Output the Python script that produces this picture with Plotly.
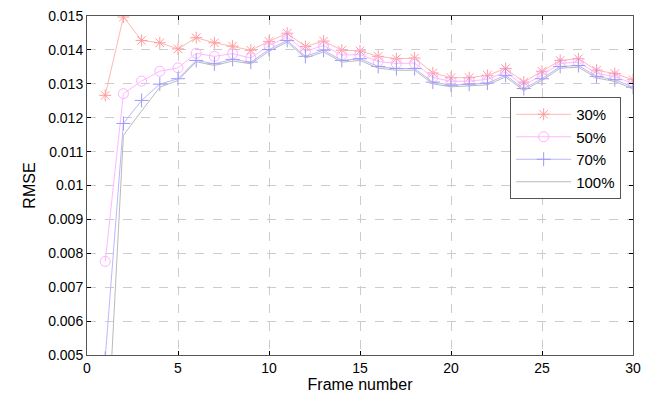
import plotly.graph_objects as go

frames = list(range(1, 31))

rmse_30 = [0.01266, 0.01497, 0.01428, 0.01421, 0.01403, 0.01436, 0.01421, 0.01411, 0.01399, 0.01425,
           0.01449, 0.01410, 0.01426, 0.01399, 0.01397, 0.01381, 0.01374, 0.01376, 0.01332, 0.01318,
           0.01318, 0.01325, 0.01345, 0.01305, 0.01337, 0.01369, 0.01374, 0.01340, 0.01330, 0.01312]
rmse_50 = [0.00776, 0.01271, 0.01308, 0.01337, 0.01347, 0.01390, 0.01381, 0.01389, 0.01376, 0.01413,
           0.01438, 0.01396, 0.01413, 0.01385, 0.01386, 0.01366, 0.01360, 0.01361, 0.01319, 0.01307,
           0.01308, 0.01313, 0.01335, 0.01295, 0.01326, 0.01360, 0.01364, 0.01331, 0.01321, 0.01301]
rmse_70 = [0.00490, 0.01183, 0.01251, 0.01299, 0.01315, 0.01369, 0.01359, 0.01372, 0.01364, 0.01401,
           0.01428, 0.01381, 0.01399, 0.01369, 0.01374, 0.01351, 0.01345, 0.01345, 0.01305, 0.01296,
           0.01299, 0.01302, 0.01325, 0.01286, 0.01315, 0.01351, 0.01354, 0.01322, 0.01312, 0.01290]
rmse_100 = [0.00125, 0.01148, 0.01220, 0.01290, 0.01310, 0.01365, 0.01354, 0.01367, 0.01359, 0.01396,
            0.01423, 0.01376, 0.01394, 0.01364, 0.01369, 0.01346, 0.01340, 0.01340, 0.01300, 0.01291,
            0.01294, 0.01297, 0.01320, 0.01281, 0.01310, 0.01346, 0.01349, 0.01317, 0.01307, 0.01285]

y_ticks = [0.005, 0.006, 0.007, 0.008, 0.009, 0.010, 0.011, 0.012, 0.013, 0.014, 0.015]
y_tick_text = ["0.005", "0.006", "0.007", "0.008", "0.009", "0.01", "0.011", "0.012", "0.013", "0.014", "0.015"]
x_ticks = [0, 5, 10, 15, 20, 25, 30]

FONT = "Liberation Sans, Arial, sans-serif"

fig = go.Figure()
fig.add_trace(go.Scatter(
    x=frames, y=rmse_30, name="30%", mode="lines+markers",
    line=dict(color="#ffb8b8", width=1),
    marker=dict(symbol="asterisk-open", size=10, color="#ff9c9c", line=dict(color="#ff9c9c", width=1)),
))
fig.add_trace(go.Scatter(
    x=frames, y=rmse_50, name="50%", mode="lines+markers",
    line=dict(color="#ffb8ff", width=1),
    marker=dict(symbol="circle-open", size=10, color="#ffb0ff", line=dict(color="#ffb0ff", width=1)),
))
fig.add_trace(go.Scatter(
    x=frames, y=rmse_70, name="70%", mode="lines+markers",
    line=dict(color="#b8b8ff", width=1),
    marker=dict(symbol="cross-thin-open", size=10, color="#9a9aff", line=dict(color="#9a9aff", width=1)),
))
fig.add_trace(go.Scatter(
    x=frames, y=rmse_100, name="100%", mode="lines",
    line=dict(color="#bababa", width=1),
))

axis_common = dict(
    showline=True, linecolor="#555555", linewidth=1, mirror="ticks",
    ticks="inside", ticklen=4, tickcolor="#000000",
    showgrid=True, gridcolor="#cccccc", griddash="dash", gridwidth=1,
    zeroline=False, automargin=False,
    tickfont=dict(family=FONT, size=14, color="#000000"),
)

fig.update_layout(
    width=659, height=399,
    margin=dict(l=87, r=26, t=16, b=44),
    paper_bgcolor="white", plot_bgcolor="white",
    font=dict(family=FONT, size=14, color="#000000"),
    showlegend=True,
    legend=dict(
        x=0.775, y=0.761, xanchor="left", yanchor="top",
        bgcolor="white", bordercolor="#555555", borderwidth=1,
        font=dict(family=FONT, size=15, color="#000000"),
        itemwidth=55, tracegroupgap=0,
    ),
    xaxis=dict(range=[0, 30], tickvals=x_ticks,
               title=dict(text="Frame number", font=dict(family=FONT, size=16), standoff=2),
               **axis_common),
    yaxis=dict(range=[0.005, 0.015], tickvals=y_ticks, ticktext=y_tick_text,
               title=dict(text="RMSE", font=dict(family=FONT, size=16), standoff=8),
               **axis_common),
)

fig.write_html("out.html", config={"displayModeBar": False},
               post_script="document.body.style.margin='0px';")
